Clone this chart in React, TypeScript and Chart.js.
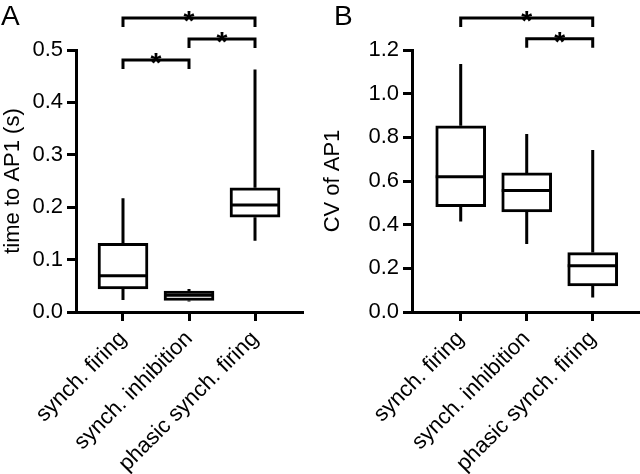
import React, { useEffect, useRef } from "react";
import { Chart, registerables } from "chart.js";

Chart.register(...registerables);

const categories = ["synch. firing", "synch. inhibition", "phasic synch. firing"];

// Panel A: time to AP1 (s)
const aMin = [0.023, 0.02, 0.136];
const aQ1 = [0.044, 0.022, 0.181];
const aMed = [0.069, 0.032, 0.204];
const aQ3 = [0.131, 0.04, 0.237];
const aMax = [0.217, 0.044, 0.463];
const aBrackets = [
  [0, 1, 0.481],
  [1, 2, 0.521],
  [0, 2, 0.561],
];

// Panel B: CV of AP1
const bMin = [0.414, 0.311, 0.066];
const bQ1 = [0.482, 0.458, 0.119];
const bMed = [0.62, 0.557, 0.212];
const bQ3 = [0.853, 0.637, 0.272];
const bMax = [1.136, 0.815, 0.742];
const bBrackets = [
  [1, 2, 1.251],
  [0, 2, 1.347],
];

const FONT = "'Liberation Sans', Arial, Helvetica, sans-serif";

type PanelCfg = {
  letter: string;
  title: string;
  min: number[];
  q1: number[];
  med: number[];
  q3: number[];
  max: number[];
  brackets: number[][];
  yMax: number;
  yStep: number;
  xMin: number;
  xMax: number;
  yWidth: number;
  padRight: number;
};

function makeChart(canvas: HTMLCanvasElement, cfg: PanelCfg) {
  const boxPlugin = {
    id: "boxextras",
    afterDatasetsDraw(chart: any) {
      const ctx = chart.ctx;
      const xs = chart.scales.x;
      const ys = chart.scales.y;
      const meta = chart.getDatasetMeta(0);
      ctx.save();
      ctx.strokeStyle = "#000";
      ctx.lineWidth = 3;
      ctx.lineCap = "butt";
      categories.forEach((_, i) => {
        const el = meta.data[i];
        const cx = xs.getPixelForValue(i);
        const half = el.width / 2;
        ctx.beginPath();
        ctx.moveTo(cx, ys.getPixelForValue(cfg.q3[i]));
        ctx.lineTo(cx, ys.getPixelForValue(cfg.max[i]));
        ctx.moveTo(cx, ys.getPixelForValue(cfg.q1[i]));
        ctx.lineTo(cx, ys.getPixelForValue(cfg.min[i]));
        ctx.stroke();
        const my = ys.getPixelForValue(cfg.med[i]);
        ctx.beginPath();
        ctx.moveTo(cx - half, my);
        ctx.lineTo(cx + half, my);
        ctx.stroke();
      });
      ctx.restore();
    },
    afterDraw(chart: any) {
      const ctx = chart.ctx;
      const xs = chart.scales.x;
      const ys = chart.scales.y;
      ctx.save();
      ctx.strokeStyle = "#000";
      ctx.fillStyle = "#000";
      ctx.lineWidth = 3;
      cfg.brackets.forEach(([a, b, v]) => {
        const x1 = xs.getPixelForValue(a);
        const x2 = xs.getPixelForValue(b);
        const y = ys.getPixelForValue(v);
        ctx.beginPath();
        ctx.moveTo(x1, y + 9);
        ctx.lineTo(x1, y);
        ctx.lineTo(x2, y);
        ctx.lineTo(x2, y + 9);
        ctx.stroke();
        ctx.font = `bold 28px ${FONT}`;
        ctx.textAlign = "center";
        ctx.textBaseline = "alphabetic";
        ctx.fillText("*", (x1 + x2) / 2, y + 12);
      });
      ctx.font = `28px ${FONT}`;
      ctx.textAlign = "left";
      ctx.textBaseline = "alphabetic";
      ctx.fillText(cfg.letter, cfg.letter === "A" ? 1 : 14, 25);
      ctx.restore();
    },
  };

  return new Chart(canvas, {
    type: "bar",
    data: {
      datasets: [
        {
          data: categories.map((_, i) => ({ x: i, y: [cfg.q1[i], cfg.q3[i]] })) as any,
          backgroundColor: "#fff",
          borderColor: "#000",
          borderWidth: 3,
          borderSkipped: false,
          barThickness: 50,
        },
      ],
    },
    options: {
      animation: false,
      responsive: false,
      events: [],
      layout: { padding: { top: 50, right: cfg.padRight, left: 0, bottom: 0 } },
      plugins: { legend: { display: false }, tooltip: { enabled: false } },
      scales: {
        x: {
          type: "linear",
          offset: false,
          min: cfg.xMin,
          max: cfg.xMax,
          afterBuildTicks: (s: any) => {
            s.ticks = [0, 1, 2].map((v) => ({ value: v }));
          },
          afterFit: (s: any) => {
            s.height = 162;
          },
          ticks: {
            autoSkip: false,
            minRotation: 45,
            maxRotation: 45,
            padding: 5,
            color: "#000",
            font: { family: FONT, size: 22 },
            callback: (v: any) => categories[v] ?? "",
          },
          grid: {
            offset: false,
            drawOnChartArea: false,
            drawTicks: true,
            tickLength: 9,
            lineWidth: 3,
            color: "#000",
          },
          border: { display: true, color: "#000", width: 3 },
        },
        y: {
          type: "linear",
          min: 0,
          max: cfg.yMax,
          afterFit: (s: any) => {
            s.width = cfg.yWidth;
          },
          ticks: {
            stepSize: cfg.yStep,
            padding: 4,
            color: "#000",
            font: { family: FONT, size: 22 },
            callback: (v: any) => Number(v).toFixed(1),
          },
          grid: {
            drawOnChartArea: false,
            drawTicks: true,
            tickLength: 9,
            lineWidth: 3,
            color: "#000",
          },
          border: { display: true, color: "#000", width: 3 },
          title: {
            display: true,
            text: cfg.title,
            color: "#000",
            font: { family: FONT, size: 22 },
            padding: { top: 0, bottom: 0 },
          },
        },
      },
    },
    plugins: [boxPlugin],
  } as any);
}

function Panel({ cfg }: { cfg: PanelCfg }) {
  const ref = useRef<HTMLCanvasElement>(null);
  useEffect(() => {
    if (!ref.current) return;
    const c = makeChart(ref.current, cfg);
    return () => c.destroy();
  }, []);
  return <canvas ref={ref} width={320} height={474} style={{ width: 320, height: 474, display: "block" }} />;
}

const panelA: PanelCfg = {
  letter: "A",
  title: "time to AP1 (s)",
  min: aMin,
  q1: aQ1,
  med: aMed,
  q3: aQ3,
  max: aMax,
  brackets: aBrackets,
  yMax: 0.5,
  yStep: 0.1,
  xMin: -0.712,
  xMax: 2.712,
  yWidth: 76,
  padRight: 18,
};

const panelB: PanelCfg = {
  letter: "B",
  title: "CV of AP1",
  min: bMin,
  q1: bQ1,
  med: bMed,
  q3: bQ3,
  max: bMax,
  brackets: bBrackets,
  yMax: 1.2,
  yStep: 0.2,
  xMin: -0.738,
  xMax: 2.686,
  yWidth: 92,
  padRight: 2,
};

export default function App() {
  return (
    <div
      style={{
        position: "fixed",
        left: 0,
        top: 0,
        width: 640,
        height: 474,
        display: "flex",
        background: "#fff",
        overflow: "hidden",
      }}
    >
      <Panel cfg={panelA} />
      <Panel cfg={panelB} />
    </div>
  );
}
